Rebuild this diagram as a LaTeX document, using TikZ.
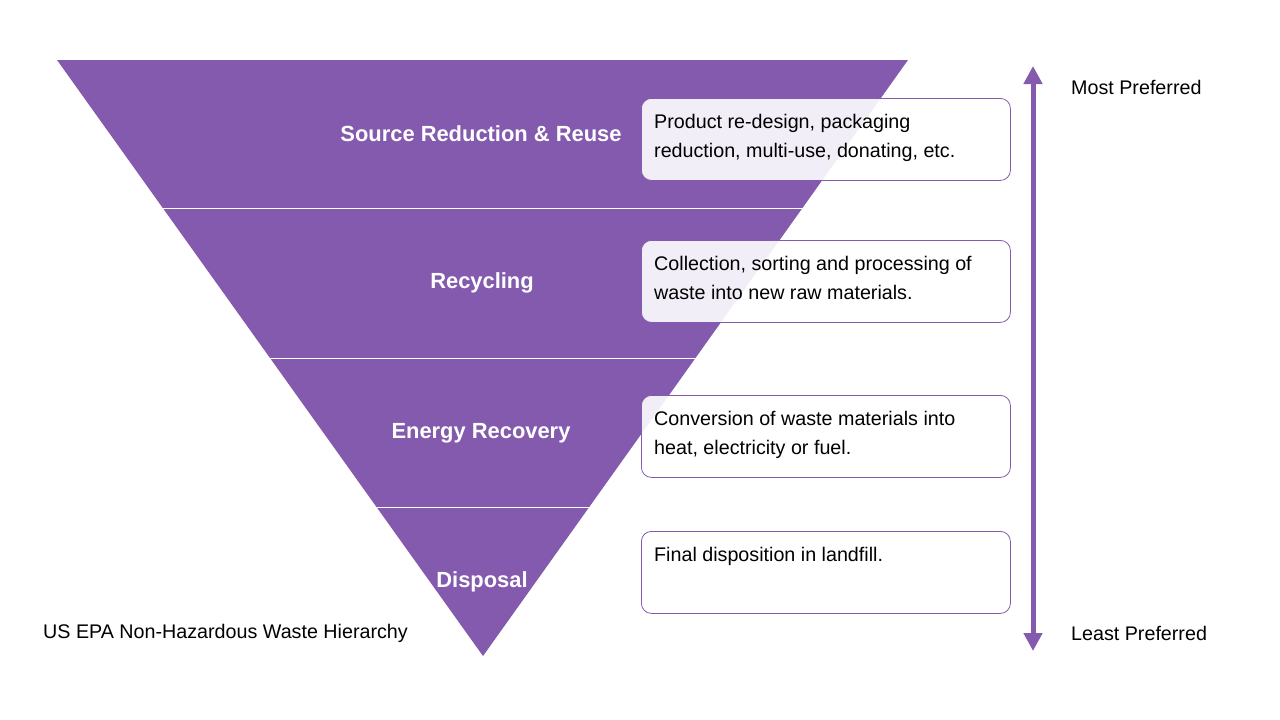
\documentclass[tikz,border=0pt]{standalone}
\usepackage{fontspec}
\setmainfont{Liberation Sans}
\usetikzlibrary{arrows.meta,positioning}
\usepackage{xcolor}
\definecolor{waste}{HTML}{845AAE}

\tikzset{
	level/.style={text=white,font=\fontsize{21.9}{25}\selectfont\bfseries},
	infobox/.style={draw=waste,line width=0.8pt,rounded corners=10pt,fill=white,fill opacity=0.9,minimum width=369pt,minimum height=82pt,inner sep=0pt},
	infotext/.style={anchor=north west,align=left,inner sep=0pt,text=black,font=\fontsize{19.7}{29.5}\selectfont},
	side/.style={inner sep=0pt,text=black,font=\fontsize{19.7}{23}\selectfont}
}

\begin{document}
\begin{tikzpicture}[x=1pt,y=-1pt,>={[inset=0,width=18pt,length=18pt]Triangle}]
		%
		\useasboundingbox (0,0) rectangle (1280,720);
		\fill [white] (0,0) rectangle (1280,720);
		\begin{scope}
			\coordinate (TL) at (57,60);
			\coordinate (TR) at (908,60);
			\coordinate (apex) at (483,656);
			\fill [waste] (TL) -- (TR) -- (apex) -- cycle;
			%
			\clip (TL) -- (TR) -- (apex) -- cycle;
			\foreach \y in {208,358,507}
				\draw [white,line width=0.8pt] (0,\y) -- (1280,\y);
		\end{scope}
		%
		\node[level] (reduce) at (481,134) {Source Reduction \& Reuse};
		\node[level] (recycle) at (482,283) {Recycling};
		\node[level] (energy) at (481,433) {Energy Recovery};
		\node[level] (dispose) at (482,582) {Disposal};
		%
		\node[infobox,anchor=north west] (box1) at (641,98) {};
		\node[infobox,anchor=north west] (box2) at (641,240) {};
		\node[infobox,anchor=north west] (box3) at (641,395) {};
		\node[infobox,anchor=north west] (box4) at (641,531) {};
		%
		\node[infotext] (text1) at ([xshift=13pt,yshift=-16pt]box1.north west) {Product re-design, packaging\\reduction, multi-use, donating, etc.};
		\node[infotext] (text2) at ([xshift=13pt,yshift=-16pt]box2.north west) {Collection, sorting and processing of\\waste into new raw materials.};
		\node[infotext] (text3) at ([xshift=13pt,yshift=-16pt]box3.north west) {Conversion of waste materials into\\heat, electricity or fuel.};
		\node[infotext] (text4) at ([xshift=13pt,yshift=-16pt]box4.north west) {Final disposition in landfill.};
		%
		\coordinate (most) at (1033,66);
		\coordinate (least) at (1033,651);
		\draw [<->,waste,line width=5pt] (least) -- (most);
		%
		\node[side,anchor=west] (mostlabel) at (1071,87) {Most Preferred};
		\node[side,anchor=west] (leastlabel) at (1071,633) {Least Preferred};
		\node[side,anchor=west] (caption) at (43,633) {US EPA Non-Hazardous Waste Hierarchy};
		%
	\end{tikzpicture}
\end{document}
